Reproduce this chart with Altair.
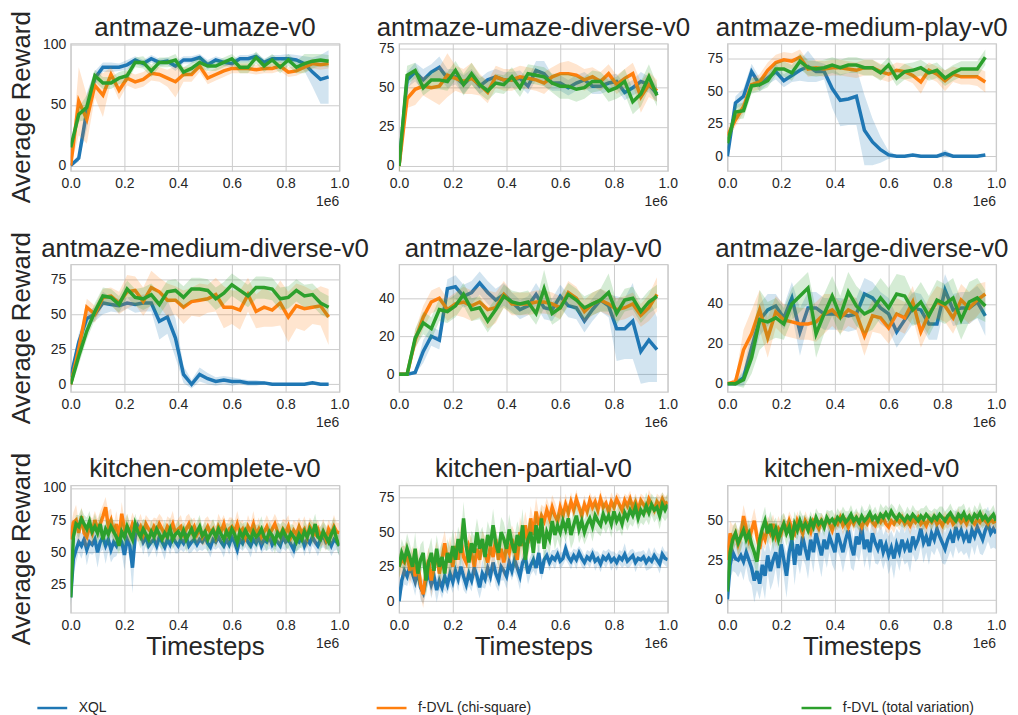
import altair as alt
import pandas as pd

SERIES = ["XQL", "f-DVL (chi-square)", "f-DVL (total variation)"]
COLORS = ["#1f77b4", "#ff7f0e", "#2ca02c"]

# x positions (units of 1e6 timesteps)
ANT_X = [round(0.03 * i, 2) for i in range(33)]
KIT_X = [round(0.01 * i, 2) for i in range(101)]

# ---------------- antmaze-umaze-v0 ----------------
UMAZE_XQL = [0, 6, 45, 72, 81, 81, 81, 83, 87, 84, 88, 85, 86, 82, 87, 87, 89, 83, 87, 85, 84, 88, 88, 90, 85, 88, 88, 88, 87, 84, 77, 71, 73]
UMAZE_CHI = [0, 53, 38, 66, 58, 75, 62, 72, 69, 71, 76, 75, 72, 69, 75, 75, 82, 72, 75, 78, 80, 80, 80, 79, 80, 80, 82, 77, 78, 81, 84, 83, 84]
UMAZE_TV = [15, 42, 48, 74, 68, 68, 72, 74, 85, 85, 78, 85, 85, 87, 77, 80, 85, 82, 82, 85, 88, 81, 81, 89, 82, 87, 81, 87, 81, 84, 86, 87, 86]
UMAZE_XQL_SD = [1, 3, 15, 6, 4, 4, 3, 4, 3, 3, 3, 3, 3, 4, 3, 3, 3, 4, 3, 3, 3, 3, 3, 3, 3, 3, 3, 4, 4, 6, 12, 20, 22]
UMAZE_CHI_SD = [1, 28, 20, 10, 18, 6, 8, 6, 6, 6, 6, 6, 7, 13, 6, 6, 5, 5, 5, 5, 4, 4, 4, 4, 4, 4, 4, 4, 4, 4, 4, 4, 4]
UMAZE_TV_SD = [3, 6, 10, 5, 5, 5, 5, 5, 4, 5, 5, 4, 4, 5, 4, 5, 5, 4, 4, 4, 4, 5, 5, 5, 5, 5, 5, 5, 5, 8, 6, 5, 5]

# ---------------- antmaze-umaze-diverse-v0 ----------------
UDIV_XQL = [0, 55, 60, 55, 60, 63, 56, 57, 52, 57, 51, 55, 57, 55, 55, 56, 51, 61, 59, 53, 53, 50, 53, 55, 51, 51, 53, 54, 47, 50, 54, 52, 46]
UDIV_CHI = [0, 43, 49, 51, 50, 51, 58, 56, 54, 56, 52, 47, 57, 55, 55, 57, 56, 55, 53, 57, 59, 59, 58, 55, 57, 54, 59, 52, 56, 59, 44, 52, 48]
UDIV_TV = [0, 58, 61, 50, 55, 55, 54, 61, 52, 59, 52, 48, 53, 52, 57, 50, 59, 58, 57, 53, 51, 51, 49, 50, 54, 54, 48, 50, 54, 41, 46, 57, 45]
UDIV_XQL_SD = [1, 5, 6, 7, 5, 7, 6, 5, 6, 5, 5, 5, 5, 5, 5, 5, 5, 6, 8, 5, 5, 5, 5, 5, 5, 5, 5, 5, 5, 5, 6, 5, 5]
UDIV_CHI_SD = [6, 6, 10, 6, 8, 12, 14, 8, 8, 10, 7, 7, 7, 7, 7, 7, 7, 7, 7, 6, 7, 8, 7, 7, 6, 6, 6, 6, 6, 7, 10, 8, 7]
UDIV_TV_SD = [10, 6, 5, 5, 6, 6, 6, 6, 7, 7, 6, 6, 6, 6, 6, 6, 6, 6, 6, 6, 8, 8, 8, 7, 7, 6, 7, 7, 8, 8, 8, 8, 7]

# ---------------- antmaze-medium-play-v0 ----------------
MPLAY_XQL = [0, 41, 46, 65, 55, 60, 65, 58, 62, 66, 69, 65, 65, 52, 43, 44, 46, 20, 11, 5, 1, 0, 0, 1, 0, 0, 0, 2, 0, 0, 0, 0, 1]
MPLAY_CHI = [16, 28, 38, 55, 57, 66, 72, 74, 73, 76, 67, 68, 67, 68, 68, 67, 66, 68, 68, 65, 63, 66, 65, 62, 57, 66, 63, 58, 63, 61, 61, 61, 57]
MPLAY_TV = [10, 34, 35, 54, 55, 58, 67, 67, 64, 73, 68, 67, 68, 70, 68, 70, 70, 68, 68, 64, 70, 60, 65, 66, 68, 64, 66, 60, 64, 67, 67, 67, 76]
MPLAY_XQL_SD = [1, 5, 6, 6, 5, 5, 6, 5, 5, 8, 12, 8, 6, 15, 20, 20, 22, 27, 18, 10, 3, 1, 1, 1, 1, 1, 1, 3, 1, 1, 1, 1, 1]
MPLAY_CHI_SD = [5, 5, 5, 5, 6, 6, 6, 6, 6, 6, 6, 6, 6, 6, 6, 6, 6, 6, 6, 6, 6, 6, 6, 6, 9, 6, 6, 8, 6, 6, 6, 7, 8]
MPLAY_TV_SD = [5, 6, 6, 6, 5, 5, 5, 6, 6, 6, 6, 6, 6, 6, 6, 6, 6, 6, 6, 6, 6, 6, 6, 6, 6, 6, 6, 6, 6, 6, 6, 6, 6]

# ---------------- antmaze-medium-diverse-v0 ----------------
MDIV_XQL = [5, 30, 47, 50, 58, 57, 56, 58, 57, 58, 58, 45, 48, 33, 7, 0, 7, 4, 2, 3, 2, 2, 1, 1, 1, 0, 0, 0, 0, 0, 1, 0, 0]
MDIV_CHI = [0, 25, 55, 50, 62, 63, 58, 66, 67, 59, 69, 66, 60, 60, 55, 59, 60, 61, 64, 55, 55, 53, 64, 52, 55, 53, 58, 48, 56, 54, 55, 56, 48]
MDIV_TV = [0, 20, 38, 52, 63, 62, 57, 68, 62, 61, 64, 57, 66, 67, 62, 68, 68, 67, 61, 65, 71, 67, 63, 69, 69, 68, 61, 62, 67, 63, 64, 58, 55]
MDIV_XQL_SD = [3, 6, 5, 5, 8, 5, 5, 4, 6, 6, 6, 13, 12, 14, 6, 3, 5, 4, 3, 3, 3, 2, 2, 2, 1, 1, 1, 1, 1, 1, 1, 1, 1]
MDIV_CHI_SD = [3, 6, 6, 6, 6, 6, 8, 12, 10, 10, 12, 10, 12, 10, 12, 10, 12, 10, 12, 15, 12, 14, 12, 12, 14, 12, 16, 18, 16, 16, 12, 14, 20]
MDIV_TV_SD = [3, 6, 6, 6, 6, 6, 6, 6, 6, 8, 8, 8, 8, 8, 8, 8, 8, 8, 8, 8, 8, 8, 8, 8, 8, 8, 8, 8, 8, 8, 8, 8, 8]

# ---------------- antmaze-large-play-v0 ----------------
LPLAY_XQL = [0, 0, 1, 12, 20, 18, 45, 46, 41, 43, 48, 43, 39, 42, 38, 34, 36, 42, 35, 34, 41, 36, 35, 28, 34, 39, 36, 24, 24, 28, 12, 18, 13]
LPLAY_CHI = [0, 0, 18, 30, 38, 40, 34, 37, 38, 36, 38, 34, 35, 42, 37, 37, 37, 38, 38, 37, 35, 43, 40, 33, 37, 39, 37, 34, 35, 37, 31, 35, 42]
LPLAY_TV = [0, 0, 19, 27, 24, 34, 33, 36, 42, 34, 35, 28, 34, 41, 38, 37, 38, 32, 45, 32, 35, 42, 39, 35, 37, 39, 43, 32, 39, 40, 33, 38, 41]
LPLAY_XQL_SD = [0, 0, 1, 6, 5, 5, 5, 6, 6, 6, 6, 6, 6, 6, 5, 5, 5, 6, 6, 6, 6, 6, 6, 6, 6, 6, 6, 17, 16, 20, 17, 22, 17]
LPLAY_CHI_SD = [0, 0, 5, 6, 6, 6, 6, 6, 8, 8, 8, 10, 8, 7, 6, 6, 6, 6, 6, 6, 6, 6, 6, 6, 6, 6, 6, 6, 6, 6, 6, 7, 9]
LPLAY_TV_SD = [0, 0, 5, 6, 6, 6, 6, 6, 6, 6, 6, 6, 6, 6, 6, 6, 6, 6, 10, 6, 6, 6, 6, 6, 6, 6, 10, 6, 6, 6, 6, 6, 6]

# ---------------- antmaze-large-diverse-v0 ----------------
LDIV_XQL = [0, 0, 3, 18, 32, 37, 39, 33, 43, 26, 38, 38, 35, 35, 35, 34, 35, 45, 43, 38, 35, 26, 32, 38, 37, 30, 30, 47, 37, 38, 38, 41, 34]
LDIV_CHI = [0, 1, 17, 25, 37, 23, 36, 32, 31, 30, 30, 31, 35, 37, 33, 37, 35, 24, 34, 33, 28, 35, 33, 41, 26, 35, 41, 39, 33, 42, 38, 42, 45]
LDIV_TV = [0, 0, 2, 13, 32, 31, 33, 30, 40, 44, 48, 25, 35, 44, 34, 46, 39, 35, 37, 43, 38, 45, 44, 37, 41, 34, 42, 40, 43, 32, 41, 43, 39]
LDIV_XQL_SD = [0, 1, 4, 8, 8, 8, 6, 6, 8, 12, 8, 8, 8, 8, 8, 8, 8, 8, 8, 8, 8, 8, 8, 8, 8, 8, 8, 8, 8, 8, 8, 8, 10]
LDIV_CHI_SD = [0, 2, 10, 12, 10, 10, 8, 8, 8, 8, 8, 10, 10, 8, 8, 8, 8, 10, 8, 8, 8, 8, 8, 8, 8, 8, 8, 8, 8, 8, 8, 8, 6]
LDIV_TV_SD = [0, 1, 4, 8, 15, 10, 10, 8, 8, 8, 8, 12, 10, 10, 10, 10, 10, 10, 10, 10, 10, 10, 10, 8, 10, 10, 10, 10, 10, 10, 10, 10, 8]

# ---------------- kitchen-complete-v0 ----------------
KCOMP_XQL = [15, 45, 52, 58, 55, 60, 52, 58, 56, 60,
             50, 58, 62, 55, 60, 52, 58, 55, 62, 58,
             48, 60, 55, 38, 62, 70, 65, 58, 62, 55,
             58, 60, 55, 62, 58, 54, 60, 56, 62, 58,
             55, 60, 57, 62, 55, 58, 60, 56, 60, 58,
             62, 57, 54, 60, 58, 62, 58, 55, 60, 56,
             62, 58, 52, 60, 57, 62, 58, 55, 60, 57,
             62, 55, 60, 58, 62, 56, 60, 58, 55, 62,
             58, 60, 56, 52, 60, 58, 62, 55, 60, 57,
             62, 58, 55, 60, 63, 58, 60, 55, 60, 58,
             55]
KCOMP_CHI = [60, 73, 75, 65, 78, 65, 62, 70, 65, 75,
             68, 72, 78, 85, 70, 75, 65, 72, 62, 80,
             68, 70, 65, 72, 68, 66, 70, 64, 72, 68,
             65, 70, 66, 72, 68, 64, 70, 67, 72, 65,
             68, 70, 64, 68, 72, 66, 70, 64, 68, 62,
             66, 70, 65, 68, 62, 70, 66, 72, 64, 68,
             70, 66, 72, 65, 68, 62, 70, 66, 72, 64,
             68, 62, 66, 70, 64, 68, 72, 66, 63, 68,
             65, 70, 62, 67, 64, 70, 65, 68, 62, 70,
             66, 64, 68, 62, 66, 60, 68, 64, 70, 66,
             65]
KCOMP_TV = [15, 62, 72, 70, 76, 72, 68, 74, 66, 70,
            65, 72, 60, 68, 64, 70, 66, 62, 55, 66,
            62, 70, 65, 60, 72, 66, 62, 68, 64, 60,
            66, 62, 68, 64, 60, 65, 62, 68, 60, 64,
            66, 62, 67, 60, 64, 68, 62, 66, 70, 63,
            66, 60, 64, 67, 62, 68, 64, 60, 66, 62,
            68, 64, 58, 66, 62, 67, 63, 60, 66, 62,
            64, 68, 62, 60, 66, 63, 58, 65, 62, 67,
            63, 60, 65, 62, 58, 64, 60, 66, 62, 68,
            64, 72, 62, 60, 66, 62, 58, 64, 68, 60,
            55]
KCOMP_XQL_SD = [8, 12, 10, 8, 10, 8, 12, 9, 8, 10,
                12, 8, 10, 14, 9, 10, 12, 8, 10, 9,
                12, 8, 10, 20, 9, 6, 8, 10, 7, 9,
                8, 6, 9, 7, 8, 10, 6, 8, 7, 9,
                6, 8, 7, 9, 6, 8, 7, 6, 8, 7,
                9, 6, 8, 7, 6, 8, 7, 9, 6, 8,
                7, 6, 9, 7, 6, 8, 7, 9, 6, 8,
                7, 6, 8, 7, 9, 6, 7, 8, 6, 9,
                7, 6, 8, 7, 9, 6, 7, 8, 6, 9,
                7, 6, 8, 7, 9, 6, 7, 8, 9, 6,
                8]
KCOMP_CHI_SD = [10, 8, 12, 9, 7, 10, 8, 9, 11, 7,
                8, 10, 9, 8, 12, 9, 7, 10, 8, 9,
                7, 10, 8, 9, 7, 8, 10, 9, 7, 8,
                9, 7, 10, 8, 9, 7, 8, 9, 10, 7,
                8, 9, 7, 10, 8, 9, 7, 8, 9, 7,
                10, 8, 9, 7, 8, 10, 9, 7, 8, 9,
                7, 8, 10, 9, 7, 8, 9, 7, 10, 8,
                9, 7, 8, 9, 10, 7, 8, 9, 7, 8,
                10, 9, 7, 8, 9, 7, 8, 10, 9, 7,
                8, 9, 7, 8, 10, 9, 7, 8, 9, 7,
                8]
KCOMP_TV_SD = [8, 10, 7, 9, 8, 7, 9, 8, 7, 10,
               8, 9, 7, 8, 10, 7, 9, 8, 7, 9,
               8, 10, 7, 9, 8, 7, 9, 8, 10, 7,
               9, 8, 7, 9, 8, 10, 7, 9, 8, 7,
               9, 8, 7, 10, 8, 9, 7, 8, 9, 7,
               8, 10, 7, 9, 8, 7, 9, 8, 7, 10,
               8, 9, 7, 8, 10, 7, 9, 8, 7, 9,
               8, 10, 7, 9, 8, 7, 9, 8, 10, 7,
               9, 8, 7, 9, 8, 10, 7, 9, 8, 7,
               9, 8, 7, 10, 8, 9, 7, 8, 9, 7,
               8]

# ---------------- kitchen-partial-v0 ----------------
KPART_XQL = [0, 15, 22, 18, 25, 20, 14, 22, 10, 6,
             15, 20, 12, 18, 8, 15, 10, 18, 12, 20,
             14, 22, 16, 25, 18, 12, 20, 15, 24, 18,
             10, 20, 16, 24, 18, 28, 20, 15, 25, 22,
             18, 28, 22, 30, 24, 18, 28, 32, 20, 26,
             30, 24, 35, 20, 30, 33, 28, 32, 30, 34,
             29, 31, 38, 32, 29, 33, 30, 35, 31, 28,
             32, 30, 34, 29, 31, 27, 32, 30, 33, 29,
             31, 28, 32, 30, 34, 29, 31, 33, 28, 31,
             30, 32, 28, 31, 29, 33, 30, 27, 34, 31,
             30]
KPART_CHI = [25, 30, 28, 35, 22, 30, 18, 28, 12, 5,
             20, 30, 15, 25, 35, 20, 30, 42, 28, 35,
             25, 40, 30, 45, 32, 28, 40, 35, 25, 38,
             30, 42, 35, 28, 40, 32, 45, 30, 38, 28,
             40, 35, 45, 38, 30, 50, 40, 55, 42, 60,
             48, 65, 55, 62, 58, 66, 60, 68, 62, 58,
             68, 62, 70, 64, 72, 66, 74, 68, 62, 70,
             65, 73, 68, 72, 66, 74, 68, 71, 65, 72,
             68, 74, 70, 66, 73, 69, 74, 68, 72, 66,
             73, 70, 67, 74, 70, 66, 72, 69, 74, 70,
             72]
KPART_TV = [25, 35, 30, 38, 32, 25, 38, 20, 30, 35,
            15, 28, 35, 22, 38, 25, 32, 20, 35, 28,
            40, 30, 45, 35, 60, 40, 28, 42, 35, 50,
            38, 45, 32, 48, 40, 55, 42, 35, 50, 45,
            38, 52, 42, 35, 48, 40, 55, 30, 45, 50,
            35, 55, 42, 60, 38, 50, 45, 58, 48, 55,
            50, 58, 52, 60, 48, 55, 62, 52, 58, 50,
            56, 60, 54, 62, 58, 55, 63, 58, 62, 56,
            65, 58, 62, 56, 64, 60, 66, 62, 68, 60,
            66, 63, 69, 64, 70, 66, 68, 62, 70, 66,
            70]
KPART_XQL_SD = [5, 8, 10, 7, 9, 8, 10, 7, 9, 8,
                9, 7, 10, 8, 9, 7, 8, 10, 7, 9,
                8, 7, 9, 8, 10, 7, 9, 8, 7, 9,
                8, 10, 7, 9, 8, 7, 9, 8, 10, 7,
                9, 8, 7, 9, 8, 10, 7, 9, 8, 7,
                8, 6, 7, 5, 6, 5, 6, 5, 7, 5,
                6, 5, 8, 5, 6, 5, 7, 5, 6, 5,
                5, 6, 5, 7, 5, 6, 5, 6, 5, 7,
                5, 6, 5, 6, 8, 5, 6, 5, 7, 5,
                6, 5, 6, 8, 5, 6, 5, 7, 6, 5,
                6]
KPART_CHI_SD = [8, 10, 12, 9, 11, 10, 8, 12, 9, 10,
                11, 9, 12, 10, 8, 11, 13, 9, 10, 12,
                9, 11, 10, 13, 9, 12, 10, 11, 9, 12,
                10, 9, 12, 11, 10, 13, 9, 11, 10, 12,
                9, 11, 10, 12, 9, 11, 13, 10, 12, 9,
                11, 10, 9, 8, 10, 9, 8, 9, 10, 8,
                9, 7, 8, 6, 7, 6, 7, 5, 6, 7,
                5, 6, 7, 5, 6, 7, 5, 6, 5, 7,
                6, 5, 7, 6, 5, 7, 6, 5, 6, 7,
                5, 6, 5, 7, 6, 5, 6, 7, 5, 6,
                5]
KPART_TV_SD = [8, 10, 9, 11, 10, 9, 12, 10, 11, 9,
               12, 10, 11, 9, 10, 12, 11, 9, 10, 11,
               12, 10, 9, 11, 12, 10, 11, 9, 12, 10,
               11, 9, 12, 10, 11, 12, 9, 10, 11, 12,
               10, 11, 9, 12, 10, 11, 12, 9, 11, 10,
               12, 11, 10, 9, 11, 10, 12, 9, 11, 10,
               12, 10, 9, 11, 10, 12, 9, 10, 11, 9,
               10, 9, 11, 10, 9, 8, 10, 9, 8, 10,
               9, 8, 10, 9, 8, 9, 10, 8, 9, 8,
               9, 8, 10, 9, 8, 9, 8, 10, 9, 8,
               9]

# ---------------- kitchen-mixed-v0 ----------------
KMIX_XQL = [0, 22, 30, 26, 25, 28, 24, 30, 25, 20,
            12, 18, 10, 22, 15, 28, 18, 25, 30, 20,
            35, 25, 15, 30, 38, 22, 35, 28, 40, 32,
            25, 38, 30, 42, 35, 28, 38, 32, 40, 35,
            30, 42, 36, 30, 38, 44, 34, 28, 40, 35,
            46, 32, 38, 30, 42, 36, 32, 38, 30, 35,
            28, 33, 26, 35, 30, 38, 32, 36, 30, 40,
            34, 38, 45, 36, 40, 34, 42, 38, 45, 40,
            36, 32, 38, 42, 36, 46, 40, 44, 38, 42,
            36, 44, 40, 46, 42, 38, 44, 48, 42, 45,
            42]
KMIX_CHI = [25, 42, 38, 42, 35, 40, 53, 45, 38, 44,
            50, 40, 32, 42, 38, 46, 42, 48, 40, 45,
            42, 48, 44, 50, 45, 42, 50, 46, 42, 50,
            47, 43, 50, 48, 45, 50, 47, 51, 48, 44,
            50, 48, 52, 47, 50, 46, 51, 48, 52, 49,
            46, 50, 48, 52, 49, 47, 51, 49, 52, 48,
            46, 50, 48, 51, 49, 52, 48, 50, 47, 51,
            49, 52, 48, 50, 47, 51, 49, 52, 48, 50,
            47, 51, 49, 52, 48, 50, 52, 49, 51, 48,
            52, 50, 48, 51, 49, 52, 50, 48, 51, 49,
            50]
KMIX_TV = [5, 30, 38, 42, 36, 40, 44, 38, 42, 35,
           30, 24, 38, 45, 50, 42, 48, 40, 45, 38,
           44, 48, 42, 46, 38, 48, 44, 50, 45, 48,
           44, 50, 46, 52, 48, 50, 46, 52, 49, 51,
           48, 52, 50, 53, 49, 51, 54, 50, 52, 49,
           53, 50, 52, 55, 51, 53, 50, 54, 52, 55,
           52, 56, 53, 51, 54, 52, 50, 53, 51, 54,
           52, 50, 53, 51, 54, 52, 50, 53, 51, 54,
           52, 50, 53, 55, 52, 50, 54, 52, 55, 51,
           53, 50, 54, 52, 55, 51, 53, 50, 52, 54,
           50]
KMIX_XQL_SD = [6, 10, 12, 9, 11, 10, 12, 9, 13, 11,
               14, 12, 10, 13, 15, 11, 12, 14, 10, 13,
               12, 11, 14, 12, 10, 13, 11, 12, 14, 10,
               12, 11, 13, 10, 12, 14, 11, 12, 10, 13,
               12, 11, 10, 13, 12, 11, 14, 10, 12, 11,
               13, 12, 10, 12, 11, 13, 10, 12, 11, 10,
               12, 11, 13, 10, 12, 11, 10, 12, 13, 11,
               10, 12, 11, 13, 10, 12, 11, 10, 12, 11,
               13, 10, 12, 11, 10, 12, 11, 13, 10, 12,
               11, 10, 12, 11, 13, 10, 12, 11, 10, 12,
               10]
KMIX_CHI_SD = [10, 8, 9, 7, 8, 9, 7, 8, 9, 7,
               8, 9, 7, 8, 6, 7, 8, 6, 7, 8,
               6, 7, 5, 6, 7, 5, 6, 5, 7, 6,
               5, 6, 5, 4, 6, 5, 4, 5, 6, 4,
               5, 4, 5, 6, 4, 5, 4, 5, 4, 6,
               5, 4, 5, 4, 5, 6, 4, 5, 4, 5,
               4, 5, 6, 4, 5, 4, 5, 4, 6, 5,
               4, 5, 4, 5, 6, 4, 5, 4, 5, 4,
               6, 5, 4, 5, 4, 5, 6, 4, 5, 4,
               5, 4, 5, 6, 4, 5, 4, 5, 4, 5,
               4]
KMIX_TV_SD = [8, 9, 8, 7, 8, 9, 7, 8, 9, 7,
              8, 9, 7, 8, 9, 7, 8, 9, 7, 8,
              9, 7, 8, 6, 7, 8, 6, 7, 8, 6,
              7, 6, 5, 6, 7, 5, 6, 5, 7, 6,
              5, 6, 5, 6, 7, 5, 6, 5, 6, 5,
              7, 6, 5, 6, 5, 6, 5, 7, 6, 5,
              6, 5, 6, 5, 7, 6, 5, 6, 5, 6,
              5, 6, 5, 7, 6, 5, 6, 5, 6, 5,
              7, 6, 5, 6, 5, 6, 5, 7, 6, 5,
              6, 5, 6, 5, 7, 6, 5, 6, 5, 6,
              5]

PANELS = [
    ("antmaze-umaze-v0", ANT_X, [-4.5, 100.5], [0, 50, 100],
     [UMAZE_XQL, UMAZE_CHI, UMAZE_TV], [UMAZE_XQL_SD, UMAZE_CHI_SD, UMAZE_TV_SD]),
    ("antmaze-umaze-diverse-v0", ANT_X, [-3.2, 78.2], [0, 25, 50, 75],
     [UDIV_XQL, UDIV_CHI, UDIV_TV], [UDIV_XQL_SD, UDIV_CHI_SD, UDIV_TV_SD]),
    ("antmaze-medium-play-v0", ANT_X, [-11.3, 86.5], [0, 25, 50, 75],
     [MPLAY_XQL, MPLAY_CHI, MPLAY_TV], [MPLAY_XQL_SD, MPLAY_CHI_SD, MPLAY_TV_SD]),
    ("antmaze-medium-diverse-v0", ANT_X, [-5.4, 85.5], [0, 25, 50, 75],
     [MDIV_XQL, MDIV_CHI, MDIV_TV], [MDIV_XQL_SD, MDIV_CHI_SD, MDIV_TV_SD]),
    ("antmaze-large-play-v0", ANT_X, [-9.2, 57.7], [0, 20, 40],
     [LPLAY_XQL, LPLAY_CHI, LPLAY_TV], [LPLAY_XQL_SD, LPLAY_CHI_SD, LPLAY_TV_SD]),
    ("antmaze-large-diverse-v0", ANT_X, [-4.1, 59.8], [0, 20, 40],
     [LDIV_XQL, LDIV_CHI, LDIV_TV], [LDIV_XQL_SD, LDIV_CHI_SD, LDIV_TV_SD]),
    ("kitchen-complete-v0", KIT_X, [3, 102], [25, 50, 75, 100],
     [KCOMP_XQL, KCOMP_CHI, KCOMP_TV], [KCOMP_XQL_SD, KCOMP_CHI_SD, KCOMP_TV_SD]),
    ("kitchen-partial-v0", KIT_X, [-8.4, 83.9], [0, 25, 50, 75],
     [KPART_XQL, KPART_CHI, KPART_TV], [KPART_XQL_SD, KPART_CHI_SD, KPART_TV_SD]),
    ("kitchen-mixed-v0", KIT_X, [-8.5, 72.5], [0, 25, 50],
     [KMIX_XQL, KMIX_CHI, KMIX_TV], [KMIX_XQL_SD, KMIX_CHI_SD, KMIX_TV_SD]),
]

W, H = 270, 128
TXT = "#262626"

color_scale = alt.Scale(domain=SERIES, range=COLORS)
legend = alt.Legend(
    orient="none", legendX=-35, legendY=651, direction="horizontal", title=None,
    symbolType="stroke", symbolSize=900, symbolStrokeWidth=2.5,
    labelFontSize=14, labelOffset=10, columnPadding=265, labelColor=TXT, labelLimit=400,
)


def label_layer(text, **kw):
    return alt.Chart(pd.DataFrame({"t": [text]})).mark_text(
        color=TXT, baseline="alphabetic", **kw
    )


charts = []
for idx, (title, xs, dom, ticks, means, sds) in enumerate(PANELS):
    row, col = divmod(idx, 3)
    xaxis = alt.Axis(values=[0, 0.2, 0.4, 0.6, 0.8, 1.0], format=".1f",
                     title="Timesteps" if row == 2 else None)
    yaxis = alt.Axis(values=ticks, format="d", title=None)
    xsc = alt.Scale(domain=[0, 1], nice=False, zero=False)
    ysc = alt.Scale(domain=dom, nice=False, zero=False)
    layers = []
    for name, c, m, sd in zip(SERIES, COLORS, means, sds):
        assert len(m) == len(xs) and len(sd) == len(xs), (title, name)
        df = pd.DataFrame({
            "x": xs, "y": m,
            "lo": [v - d for v, d in zip(m, sd)],
            "hi": [v + d for v, d in zip(m, sd)],
            "series": name,
        })
        band = alt.Chart(df).mark_area(color=c, opacity=0.2, clip=True).encode(
            x=alt.X("x:Q", scale=xsc, axis=xaxis),
            y=alt.Y("lo:Q", scale=ysc, axis=yaxis),
            y2=alt.Y2("hi:Q"),
        )
        line = alt.Chart(df).mark_line(strokeWidth=3.5, clip=True).encode(
            x=alt.X("x:Q", scale=xsc, axis=xaxis),
            y=alt.Y("y:Q", scale=ysc, axis=yaxis),
            color=alt.Color("series:N", scale=color_scale, legend=legend),
        )
        layers += [band, line]
    # "1e6" offset text of the x axis
    layers.append(label_layer("1e6", align="right", fontSize=14).encode(
        text="t:N", x=alt.value(W), y=alt.value(H + 35)))
    # panel title
    layers.append(label_layer(title, align="center", fontSize=26).encode(
        text="t:N", x=alt.value(W / 2), y=alt.value(-8)))
    # y axis title on the first column
    if col == 0:
        layers.append(label_layer("Average Reward", align="center", fontSize=26,
                                  angle=270).encode(
            text="t:N", x=alt.value(-41), y=alt.value(H / 2)))
    charts.append(alt.layer(*layers).properties(width=W, height=H))

chart = (
    alt.concat(*charts, columns=3, spacing={"row": 94, "column": 60}, bounds="flush")
    .properties(padding={"left": 0, "top": 0, "right": 0, "bottom": 0})
    .configure(font="Liberation Sans")
    .configure_view(stroke="#cccccc", strokeWidth=1.25)
    .configure_axis(
        grid=True, gridColor="#cccccc", gridWidth=1, domain=False, ticks=False, tickSize=0,
        labelFontSize=14, labelColor=TXT, titleColor=TXT, titleFontSize=26,
        titleFontWeight="normal", labelFlush=False, labelOverlap=False,
    )
    .configure_axisY(minExtent=28, maxExtent=28, labelPadding=5)
    .configure_axisX(minExtent=20, maxExtent=20, labelPadding=6, titlePadding=22,
                     titleBaseline="alphabetic")
)

chart.save("out.html", embed_options={"renderer": "svg", "actions": False})
